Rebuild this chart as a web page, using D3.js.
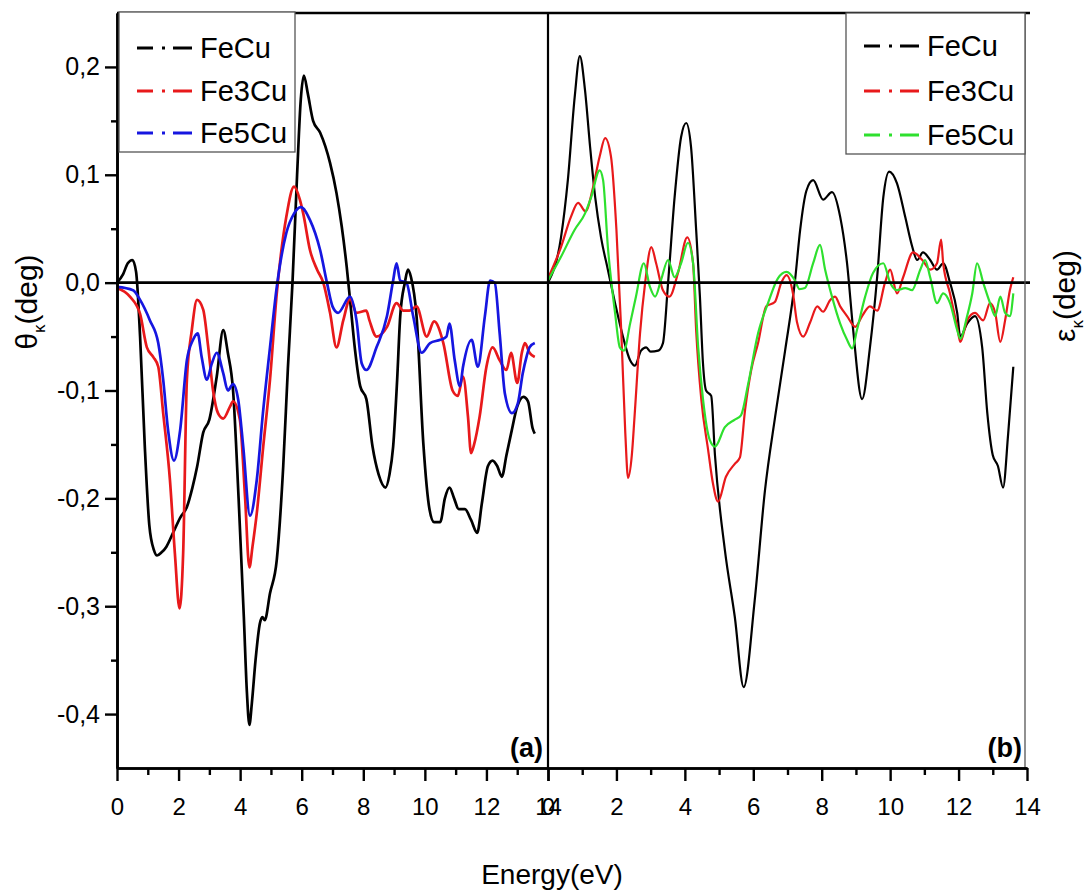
<!DOCTYPE html>
<html>
<head>
<meta charset="utf-8">
<script src="https://cdn.jsdelivr.net/npm/d3@7"></script>
<style>
  html, body { margin: 0; padding: 0; background: #fff; }
  svg { display: block; font-family: "Liberation Sans", Arial, sans-serif; }
</style>
</head>
<body>
<svg id="chart" width="1086" height="894"></svg>
<script>
// Kerr rotation θκ (panel a) and Kerr ellipticity εκ (panel b) versus photon energy.
// Each series is a list of [energy (eV), value (deg)] samples.

const seriesNames = ["FeCu", "Fe3Cu", "Fe5Cu"];
const colorsA = ["#000000", "#e8191b", "#1616e0"];
const colorsB = ["#000000", "#e8191b", "#2ee02e"];

const xTicksMajor = [0, 2, 4, 6, 8, 10, 12, 14];
const xTicksMinor = [1, 3, 5, 7, 9, 11, 13];
const yTicksMajor = [-0.4, -0.3, -0.2, -0.1, 0.0, 0.1, 0.2];
const yTicksMinor = [-0.35, -0.25, -0.15, -0.05, 0.05, 0.15];

// (a) Kerr rotation
const thetaFeCu = [
  [0,0.0],[0.2,0.008],[0.35,0.018],[0.5,0.021],[0.62,0.01],[0.75,-0.05],[0.9,-0.15],
  [1.05,-0.225],[1.2,-0.248],[1.3,-0.253],[1.45,-0.25],[1.6,-0.245],[1.82,-0.232],
  [2.05,-0.218],[2.27,-0.208],[2.45,-0.19],[2.6,-0.171],[2.8,-0.139],[3.0,-0.127],
  [3.24,-0.087],[3.45,-0.044],[3.6,-0.065],[3.77,-0.1],[3.95,-0.2],[4.12,-0.31],
  [4.22,-0.38],[4.3,-0.41],[4.38,-0.39],[4.5,-0.35],[4.64,-0.316],[4.72,-0.31],
  [4.8,-0.313],[4.97,-0.288],[5.19,-0.257],[5.4,-0.17],[5.55,-0.08],[5.7,0.0],
  [5.85,0.1],[5.97,0.17],[6.07,0.192],[6.2,0.175],[6.37,0.15],[6.6,0.139],
  [6.92,0.111],[7.13,0.083],[7.3,0.052],[7.46,0.015],[7.57,-0.016],[7.73,-0.062],
  [7.9,-0.096],[8.1,-0.108],[8.3,-0.152],[8.5,-0.178],[8.72,-0.19],[8.85,-0.178],
  [8.97,-0.152],[9.1,-0.09],[9.2,-0.031],[9.35,0.0],[9.45,0.012],[9.55,0.005],
  [9.73,-0.031],[9.95,-0.149],[10.15,-0.21],[10.3,-0.222],[10.5,-0.222],[10.65,-0.2],
  [10.8,-0.19],[10.95,-0.2],[11.1,-0.21],[11.3,-0.21],[11.5,-0.22],[11.7,-0.232],
  [11.85,-0.205],[12.05,-0.17],[12.2,-0.165],[12.35,-0.17],[12.5,-0.18],[12.65,-0.16],
  [12.8,-0.14],[13.0,-0.115],[13.2,-0.106],[13.35,-0.11],[13.5,-0.135],[13.57,-0.14]
];
const thetaFe3Cu = [
  [0,-0.005],[0.42,-0.013],[0.75,-0.029],[0.97,-0.06],[1.18,-0.069],[1.34,-0.078],
  [1.5,-0.121],[1.72,-0.183],[1.88,-0.251],[2.03,-0.302],[2.15,-0.25],[2.27,-0.09],
  [2.43,-0.044],[2.6,-0.016],[2.8,-0.025],[2.96,-0.059],[3.12,-0.1],[3.28,-0.121],
  [3.45,-0.126],[3.67,-0.115],[3.77,-0.11],[3.99,-0.127],[4.16,-0.199],[4.3,-0.264],
  [4.4,-0.245],[4.54,-0.214],[4.75,-0.152],[4.97,-0.09],[5.19,-0.01],[5.5,0.061],
  [5.75,0.089],[5.94,0.077],[6.05,0.064],[6.27,0.03],[6.5,0.012],[6.7,0.0],
  [6.92,-0.028],[7.13,-0.06],[7.35,-0.035],[7.57,-0.015],[7.78,-0.028],[8.1,-0.026],
  [8.2,-0.035],[8.43,-0.05],[8.77,-0.041],[9.08,-0.019],[9.3,-0.026],[9.5,-0.026],
  [9.73,-0.022],[10.06,-0.05],[10.3,-0.036],[10.6,-0.056],[10.9,-0.1],[11.07,-0.105],
  [11.24,-0.087],[11.4,-0.124],[11.5,-0.158],[11.6,-0.15],[11.78,-0.124],[12.0,-0.078],
  [12.2,-0.06],[12.43,-0.072],[12.65,-0.081],[12.8,-0.065],[13.0,-0.093],[13.15,-0.065],
  [13.25,-0.056],[13.4,-0.065],[13.57,-0.069]
];
const thetaFe5Cu = [
  [0,-0.004],[0.52,-0.007],[0.75,-0.016],[1.07,-0.035],[1.34,-0.056],[1.5,-0.09],
  [1.66,-0.137],[1.85,-0.165],[2.05,-0.137],[2.27,-0.072],[2.47,-0.053],[2.62,-0.047],
  [2.75,-0.069],[2.92,-0.09],[3.08,-0.075],[3.24,-0.065],[3.45,-0.084],[3.6,-0.1],
  [3.77,-0.094],[3.94,-0.109],[4.1,-0.152],[4.32,-0.216],[4.54,-0.183],[4.74,-0.121],
  [4.97,-0.06],[5.19,-0.004],[5.5,0.046],[5.75,0.064],[5.97,0.07],[6.27,0.058],
  [6.6,0.03],[6.82,0.0],[7.0,-0.022],[7.18,-0.028],[7.57,-0.013],[7.78,-0.035],
  [7.95,-0.075],[8.1,-0.081],[8.43,-0.06],[8.77,-0.031],[8.97,0.002],[9.08,0.018],
  [9.2,0.002],[9.4,0.0],[9.62,-0.031],[9.9,-0.065],[10.17,-0.056],[10.5,-0.053],
  [10.7,-0.05],[10.8,-0.038],[10.97,-0.072],[11.14,-0.096],[11.24,-0.078],[11.52,-0.053],
  [11.72,-0.078],[11.95,-0.031],[12.12,0.002],[12.27,0.0],[12.43,-0.047],[12.6,-0.103],
  [12.83,-0.121],[13.02,-0.112],[13.18,-0.084],[13.3,-0.069],[13.4,-0.06],[13.57,-0.056]
];

// (b) Kerr ellipticity
const epsFeCu = [
  [0,0.0],[0.38,0.042],[0.58,0.095],[0.78,0.172],[0.93,0.21],[1.08,0.179],[1.23,0.126],
  [1.38,0.079],[1.55,0.042],[1.75,0.012],[1.96,-0.019],[2.19,-0.05],[2.4,-0.072],
  [2.54,-0.077],[2.72,-0.063],[2.87,-0.06],[3.0,-0.064],[3.22,-0.063],[3.36,-0.056],
  [3.51,0.0],[3.7,0.079],[3.89,0.135],[4.04,0.148],[4.18,0.126],[4.33,0.049],
  [4.44,-0.013],[4.53,-0.075],[4.62,-0.1],[4.77,-0.105],[4.88,-0.16],[5.17,-0.248],
  [5.46,-0.31],[5.72,-0.375],[6.04,-0.295],[6.34,-0.193],[6.64,-0.124],[6.93,-0.063],
  [7.22,0.002],[7.37,0.049],[7.55,0.085],[7.75,0.095],[8.04,0.077],[8.3,0.084],
  [8.54,0.061],[8.74,0.018],[8.92,-0.044],[9.18,-0.108],[9.41,-0.06],[9.62,0.005],
  [9.8,0.079],[9.97,0.103],[10.2,0.092],[10.44,0.061],[10.64,0.034],[10.79,0.021],
  [10.96,0.028],[11.17,0.021],[11.37,0.012],[11.55,0.018],[11.75,0.0],[11.96,-0.028],
  [12.05,-0.05],[12.25,-0.038],[12.48,-0.031],[12.69,-0.06],[12.84,-0.121],[13.0,-0.16],
  [13.15,-0.17],[13.3,-0.19],[13.45,-0.14],[13.6,-0.078]
];
const epsFe3Cu = [
  [0,0.004],[0.38,0.033],[0.67,0.061],[0.88,0.074],[1.1,0.066],[1.3,0.086],[1.51,0.117],
  [1.67,0.134],[1.84,0.117],[2.0,0.049],[2.14,-0.044],[2.26,-0.14],[2.34,-0.181],
  [2.45,-0.16],[2.53,-0.124],[2.69,-0.047],[2.84,0.0],[3.02,0.033],[3.16,0.018],
  [3.36,-0.007],[3.55,-0.013],[3.8,0.009],[4.07,0.042],[4.24,0.018],[4.33,-0.044],
  [4.48,-0.108],[4.68,-0.155],[4.82,-0.186],[4.97,-0.203],[5.2,-0.18],[5.46,-0.168],
  [5.61,-0.162],[5.76,-0.118],[5.94,-0.081],[6.14,-0.056],[6.38,-0.022],[6.63,-0.018],
  [6.82,0.0],[6.97,0.007],[7.16,-0.01],[7.28,-0.037],[7.46,-0.05],[7.66,-0.037],
  [7.87,-0.022],[8.04,-0.027],[8.25,-0.016],[8.39,-0.013],[8.54,-0.022],[8.74,-0.031],
  [8.98,-0.041],[9.18,-0.031],[9.41,-0.022],[9.62,-0.026],[9.85,0.0],[10.0,0.012],
  [10.2,-0.01],[10.38,0.005],[10.67,0.028],[10.94,0.021],[11.17,0.012],[11.37,0.018],
  [11.49,0.04],[11.55,0.018],[11.75,-0.01],[11.96,-0.041],[12.05,-0.055],[12.25,-0.035],
  [12.48,-0.028],[12.72,-0.035],[12.92,-0.019],[13.07,-0.028],[13.22,-0.055],
  [13.36,-0.035],[13.5,-0.007],[13.6,0.005]
];
const epsFe5Cu = [
  [0,0.002],[0.38,0.024],[0.78,0.049],[1.08,0.064],[1.26,0.079],[1.51,0.104],[1.61,0.095],
  [1.75,0.033],[1.96,-0.028],[2.1,-0.06],[2.22,-0.063],[2.4,-0.038],[2.57,-0.013],
  [2.8,0.018],[2.98,-0.004],[3.13,-0.013],[3.3,0.002],[3.51,0.021],[3.7,0.005],
  [3.89,0.018],[4.09,0.037],[4.24,0.018],[4.39,-0.06],[4.53,-0.108],[4.73,-0.146],
  [4.88,-0.152],[5.17,-0.134],[5.46,-0.127],[5.64,-0.123],[5.85,-0.094],[6.14,-0.047],
  [6.43,-0.019],[6.72,0.004],[6.97,0.01],[7.22,0.002],[7.35,-0.006],[7.51,-0.005],
  [7.75,0.018],[7.95,0.035],[8.1,0.012],[8.3,-0.013],[8.54,-0.038],[8.74,-0.053],
  [8.89,-0.061],[9.03,-0.044],[9.27,-0.013],[9.5,0.009],[9.8,0.018],[10.0,0.0],
  [10.2,-0.007],[10.44,-0.005],[10.64,-0.007],[10.88,0.012],[11.02,0.021],[11.17,0.005],
  [11.37,-0.019],[11.55,-0.01],[11.75,-0.019],[11.96,-0.044],[12.05,-0.052],[12.25,-0.031],
  [12.4,-0.01],[12.54,0.018],[12.72,0.0],[12.92,-0.019],[13.07,-0.031],[13.22,-0.013],
  [13.36,-0.028],[13.5,-0.031],[13.6,-0.01]
];

const panelA = [thetaFeCu, thetaFe3Cu, thetaFe5Cu];
const panelB = [epsFeCu, epsFe3Cu, epsFe5Cu];

// ---- layout ----
const svg = d3.select("#chart");
svg.append("rect").attr("width", 1086).attr("height", 894).attr("fill", "#fff");

const xA = d3.scaleLinear().domain([0, 14]).range([117, 548]);
const xB = d3.scaleLinear().domain([0, 14]).range([548, 1027]);
const y = d3.scaleLinear().domain([-0.45, 0.25]).range([768, 13]);

const comma = d3.formatLocale({ decimal: ",", thousands: ".", grouping: [3], currency: ["", ""], minus: "-" });
const fmtY = comma.format(".1f");

// ---- curves ----
function drawPanel(x, data, colors, width) {
  const line = d3.line()
    .x(d => x(d[0]))
    .y(d => y(d[1]))
    .curve(d3.curveMonotoneX);
  svg.append("g")
    .selectAll("path")
    .data(data)
    .join("path")
    .attr("d", line)
    .attr("fill", "none")
    .attr("stroke", (d, i) => colors[i])
    .attr("stroke-width", width)
    .attr("stroke-linejoin", "round");
}
drawPanel(xA, panelA, colorsA, 2.7);
drawPanel(xB, panelB, colorsB, 2.2);

// ---- frame and zero line ----
const frame = svg.append("g").attr("stroke", "#000").attr("fill", "none");
frame.append("line").attr("x1", xA(0)).attr("x2", xB(14) + 3).attr("y1", y(0.25)).attr("y2", y(0.25)).attr("stroke-width", 2.6);
frame.append("line").attr("x1", xA(0)).attr("x2", xB(14) + 3).attr("y1", y(0)).attr("y2", y(0)).attr("stroke-width", 2.6);
frame.append("line").attr("x1", xB(0)).attr("x2", xB(0)).attr("y1", y(0.25)).attr("y2", y(-0.45)).attr("stroke-width", 2.2);
frame.append("line").attr("x1", xB(14) - 2).attr("x2", xB(14) - 2).attr("y1", y(0.25)).attr("y2", y(-0.45))
  .attr("stroke", "#555").attr("stroke-width", 1.3);

// ---- axes ----
function styleAxis(g) {
  g.selectAll("path.domain").attr("stroke-width", 2.6);
  g.selectAll(".tick line").attr("stroke-width", 2.4);
  g.selectAll("text").attr("font-family", "'Liberation Sans', Arial, sans-serif").attr("fill", "#000");
}

const yAxis = svg.append("g").attr("transform", `translate(${xA(0)},0)`)
  .call(d3.axisLeft(y).tickValues(yTicksMajor).tickSize(12).tickSizeOuter(0).tickPadding(5).tickFormat(fmtY))
  .call(styleAxis);
yAxis.selectAll("text").attr("font-size", 25);
svg.append("g").attr("transform", `translate(${xA(0)},0)`)
  .call(d3.axisLeft(y).tickValues(yTicksMinor).tickSize(6).tickSizeOuter(0).tickFormat(""))
  .call(styleAxis);

[xA, xB].forEach(x => {
  const gx = svg.append("g").attr("transform", `translate(0,${y(-0.45)})`)
    .call(d3.axisBottom(x).tickValues(xTicksMajor).tickSize(13).tickSizeOuter(0).tickPadding(17).tickFormat(d3.format("d")))
    .call(styleAxis);
  gx.selectAll("text").attr("font-size", 24);
  svg.append("g").attr("transform", `translate(0,${y(-0.45)})`)
    .call(d3.axisBottom(x).tickValues(xTicksMinor).tickSize(7).tickSizeOuter(0).tickFormat(""))
    .call(styleAxis);
});

// ---- axis titles ----
svg.append("text")
  .attr("x", xB(0) + 4).attr("y", 884)
  .attr("text-anchor", "middle").attr("font-size", 28)
  .text("Energy(eV)");

function yTitle(x, yc, symbol) {
  const t = svg.append("text")
    .attr("transform", `translate(${x},${yc}) rotate(-90)`)
    .attr("text-anchor", "middle").attr("font-size", 30);
  t.append("tspan").text(symbol);
  t.append("tspan").attr("font-size", 17).attr("dy", 8).text("κ");
  t.append("tspan").attr("dy", -8).text("(deg)");
}
yTitle(37, 302, "θ");
yTitle(1075, 296, "ε");

// ---- panel tags ----
svg.append("text").attr("x", xA(14) - 5).attr("y", 757).attr("text-anchor", "end")
  .attr("font-size", 27).attr("font-weight", "bold").text("(a)");
svg.append("text").attr("x", xB(14) - 5).attr("y", 757).attr("text-anchor", "end")
  .attr("font-size", 27).attr("font-weight", "bold").text("(b)");

// ---- legends ----
function legend(x0, y0, w, h, colors, rowY) {
  const g = svg.append("g");
  g.append("rect").attr("x", x0).attr("y", y0).attr("width", w).attr("height", h)
    .attr("fill", "#fff").attr("stroke", "#555").attr("stroke-width", 1.3);
  seriesNames.forEach((name, i) => {
    const yy = rowY[i];
    const lx = x0 + 18;
    g.append("line").attr("x1", lx).attr("x2", lx + 55).attr("y1", yy).attr("y2", yy)
      .attr("stroke", colors[i]).attr("stroke-width", 3.2)
      .attr("stroke-dasharray", "16,9,3,8,19");
    g.append("text").attr("x", lx + 63).attr("y", yy + 10)
      .attr("font-size", 29).attr("fill", "#000").text(name);
  });
}
legend(119, 12, 176, 140, colorsA, [48, 91, 133]);
legend(846, 13, 179, 141, colorsB, [46, 91, 135]);
</script>
</body>
</html>
